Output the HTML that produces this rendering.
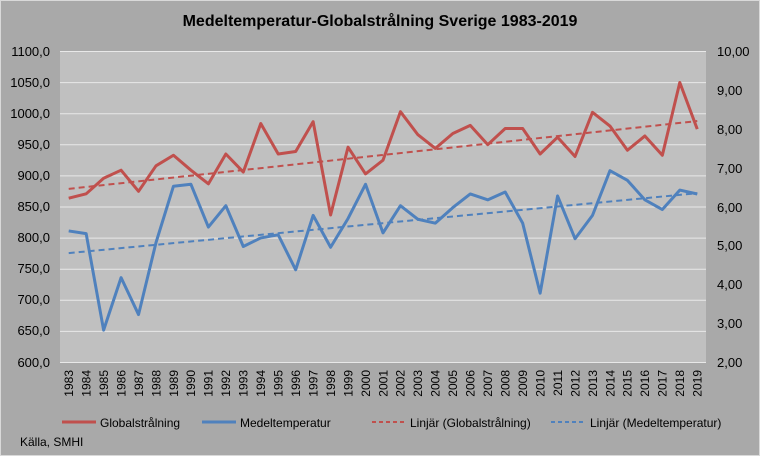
<!DOCTYPE html>
<html><head><meta charset="utf-8"><style>
html,body{margin:0;padding:0;background:#a9a9a9}
svg{display:block;font-family:"Liberation Sans",sans-serif}
</style></head><body>
<svg width="760" height="456" viewBox="0 0 760 456" xmlns="http://www.w3.org/2000/svg">
<rect x="0" y="0" width="760" height="456" fill="#a9a9a9"/>
<rect x="0.5" y="0.5" width="759" height="455" fill="none" stroke="#d9d9d9"/>
<text x="380" y="26" text-anchor="middle" font-size="16" font-weight="bold" fill="#000">Medeltemperatur-Globalstrålning Sverige 1983-2019</text>
<rect x="60" y="51" width="646" height="312" fill="#c0c0c0"/>
<g stroke="#e8e8e8" stroke-width="1">
<line x1="60" x2="706" y1="51.5" y2="51.5"/><line x1="60" x2="706" y1="82.6" y2="82.6"/>
<line x1="60" x2="706" y1="113.7" y2="113.7"/><line x1="60" x2="706" y1="144.8" y2="144.8"/>
<line x1="60" x2="706" y1="175.9" y2="175.9"/><line x1="60" x2="706" y1="207" y2="207"/>
<line x1="60" x2="706" y1="238.1" y2="238.1"/><line x1="60" x2="706" y1="269.2" y2="269.2"/>
<line x1="60" x2="706" y1="300.3" y2="300.3"/><line x1="60" x2="706" y1="331.4" y2="331.4"/>
<line x1="60" x2="706" y1="362.5" y2="362.5"/>
</g>
<g font-size="13" fill="#000" text-anchor="end">
<text x="50" y="56">1100,0</text><text x="50" y="87">1050,0</text><text x="50" y="118">1000,0</text>
<text x="50" y="149">950,0</text><text x="50" y="180">900,0</text><text x="50" y="211">850,0</text>
<text x="50" y="242">800,0</text><text x="50" y="273">750,0</text><text x="50" y="304">700,0</text>
<text x="50" y="335">650,0</text><text x="50" y="367">600,0</text>
</g>
<g font-size="13" fill="#000" text-anchor="start">
<text x="717" y="56">10,00</text><text x="717" y="95">9,00</text><text x="717" y="134">8,00</text>
<text x="717" y="173">7,00</text><text x="717" y="212">6,00</text><text x="717" y="250">5,00</text>
<text x="717" y="289">4,00</text><text x="717" y="328">3,00</text><text x="717" y="367">2,00</text>
</g>
<g transform="matrix(17.46 0 0 -0.622 68.7 736.2)" fill="none">
<polyline vector-effect="non-scaling-stroke" stroke="#c0504d" stroke-width="3" stroke-linejoin="round"
points="0,865 1,872 2,897 3,910 4,876 5,917 6,934 7,910 8,888 9,936 10,907 11,985 12,936 13,940 14,988 15,838 16,947 17,904 18,926 19,1004 20,967 21,945 22,969 23,982 24,951 25,977 26,977 27,936 28,963 29,932 30,1003 31,981 32,942 33,965 34,934 35,1051 36,976"/>
<line vector-effect="non-scaling-stroke" stroke="#c0504d" stroke-width="2" stroke-dasharray="6,4" x1="0" y1="880" x2="36" y2="989"/>
</g>
<g transform="matrix(17.46 0 0 -38.9 68.7 441)" fill="none">
<polyline vector-effect="non-scaling-stroke" stroke="#4f81bd" stroke-width="3" stroke-linejoin="round"
points="0,5.4 1,5.33 2,2.85 3,4.2 4,3.25 5,5.1 6,6.55 7,6.6 8,5.5 9,6.05 10,5.0 11,5.22 12,5.3 13,4.4 14,5.8 15,4.98 16,5.72 17,6.6 18,5.35 19,6.05 20,5.7 21,5.6 22,6.0 23,6.35 24,6.2 25,6.4 26,5.6 27,3.8 28,6.3 29,5.2 30,5.8 31,6.95 32,6.7 33,6.2 34,5.95 35,6.45 36,6.35"/>
<line vector-effect="non-scaling-stroke" stroke="#4f81bd" stroke-width="2" stroke-dasharray="6,4" x1="0" y1="4.83" x2="36" y2="6.37"/>
</g>
<g font-size="12" fill="#000" text-anchor="end">
<text transform="translate(73,370) rotate(-90)">1983</text><text transform="translate(90.4,370) rotate(-90)">1984</text>
<text transform="translate(107.9,370) rotate(-90)">1985</text><text transform="translate(125.4,370) rotate(-90)">1986</text>
<text transform="translate(142.8,370) rotate(-90)">1987</text><text transform="translate(160.3,370) rotate(-90)">1988</text>
<text transform="translate(177.8,370) rotate(-90)">1989</text><text transform="translate(195.2,370) rotate(-90)">1990</text>
<text transform="translate(212.7,370) rotate(-90)">1991</text><text transform="translate(230.1,370) rotate(-90)">1992</text>
<text transform="translate(247.6,370) rotate(-90)">1993</text><text transform="translate(265.1,370) rotate(-90)">1994</text>
<text transform="translate(282.5,370) rotate(-90)">1995</text><text transform="translate(300,370) rotate(-90)">1996</text>
<text transform="translate(317.4,370) rotate(-90)">1997</text><text transform="translate(334.9,370) rotate(-90)">1998</text>
<text transform="translate(352.4,370) rotate(-90)">1999</text><text transform="translate(369.8,370) rotate(-90)">2000</text>
<text transform="translate(387.3,370) rotate(-90)">2001</text><text transform="translate(404.7,370) rotate(-90)">2002</text>
<text transform="translate(422.2,370) rotate(-90)">2003</text><text transform="translate(439.7,370) rotate(-90)">2004</text>
<text transform="translate(457.1,370) rotate(-90)">2005</text><text transform="translate(474.6,370) rotate(-90)">2006</text>
<text transform="translate(492,370) rotate(-90)">2007</text><text transform="translate(509.5,370) rotate(-90)">2008</text>
<text transform="translate(527,370) rotate(-90)">2009</text><text transform="translate(544.4,370) rotate(-90)">2010</text>
<text transform="translate(561.9,370) rotate(-90)">2011</text><text transform="translate(579.3,370) rotate(-90)">2012</text>
<text transform="translate(596.8,370) rotate(-90)">2013</text><text transform="translate(614.3,370) rotate(-90)">2014</text>
<text transform="translate(631.7,370) rotate(-90)">2015</text><text transform="translate(649.2,370) rotate(-90)">2016</text>
<text transform="translate(666.6,370) rotate(-90)">2017</text><text transform="translate(684.1,370) rotate(-90)">2018</text>
<text transform="translate(701.6,370) rotate(-90)">2019</text>
</g>
<g font-size="12" fill="#000">
<line x1="62" x2="96" y1="422" y2="422" stroke="#c0504d" stroke-width="3"/>
<text x="100" y="427">Globalstrålning</text>
<line x1="202" x2="236" y1="422" y2="422" stroke="#4f81bd" stroke-width="3"/>
<text x="240" y="427">Medeltemperatur</text>
<line x1="372" x2="405" y1="422" y2="422" stroke="#c0504d" stroke-width="2" stroke-dasharray="4,3"/>
<text x="410" y="427">Linjär (Globalstrålning)</text>
<line x1="551" x2="585" y1="422" y2="422" stroke="#4f81bd" stroke-width="2" stroke-dasharray="4,3"/>
<text x="590" y="427">Linjär (Medeltemperatur)</text>
<text x="20" y="446">Källa, SMHI</text>
</g>
</svg>
</body></html>
